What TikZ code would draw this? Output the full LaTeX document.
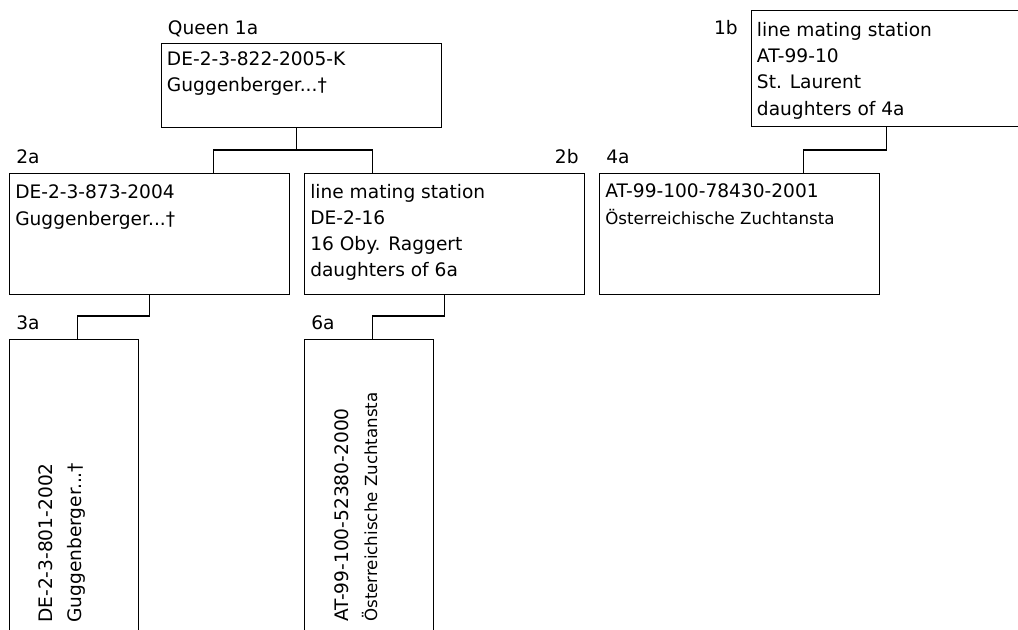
\documentclass[tikz,border=0pt]{standalone}
\usepackage{fontspec}
\setmainfont{DejaVu Sans}
\begin{document}
\begin{tikzpicture}
        [
            x = 0.75pt, y = -0.75pt,
            box/.style = {draw, line width = 1pt, inner sep = 0pt, anchor = north west},
            wide/.style = {box, minimum width = 210pt, minimum height = 91pt},
            tall/.style = {box, minimum width = 96.75pt, minimum height = 235pt},
            txt/.style = {anchor = north west, align = left, inner sep = 0pt, font = \fontsize{13.95}{19.7}\selectfont},
            turned/.style = {txt, rotate = 90, font = \fontsize{13.95}{21.75}\selectfont},
            tag/.style = {inner sep = 0pt, font = \fontsize{13.95}{19.7}\selectfont},
            link/.style = {draw, line width = 1pt}
        ]
            \useasboundingbox (0,0) rectangle (1018,630);
            \clip (0,0) rectangle (1018,630);
            % boxes
            \node [box, minimum width = 210pt, minimum height = 63.2pt] (q1a) at (160.7,42.7) {};
            \node [box, minimum width = 210pt, minimum height = 87pt] (q1b) at (750.7,10) {};
            \node [wide] (q2a) at (9,172.7) {};
            \node [wide] (q2b) at (304,172.7) {};
            \node [wide] (q4a) at (599,172.7) {};
            \node [tall] (q3a) at (9,339) {};
            \node [tall] (q6a) at (304,339) {};
            % labels
            \node [tag, anchor = base west] (l1a) at ([shift={(7,-8.4)}]q1a.north west) {Queen 1a};
            \node [tag, anchor = base east] (l1b) at (738,35) {1b};
            \node [tag, anchor = base west] (l2a) at ([shift={(7,-9.4)}]q2a.north west) {2a};
            \node [tag, anchor = base east] (l2b) at ([shift={(-6.5,-9.4)}]q2b.north east) {2b};
            \node [tag, anchor = base west] (l4a) at ([shift={(7,-9.4)}]q4a.north west) {4a};
            \node [tag, anchor = base west] (l3a) at ([shift={(7,-9)}]q3a.north west) {3a};
            \node [tag, anchor = base west] (l6a) at ([shift={(7,-9)}]q6a.north west) {6a};
            % texts
            \node [txt] (t1a) at ([shift={(6,8.5)}]q1a.north west) {DE-2-3-822-2005-K\\Guggenberger...†};
            \node [txt] (t1b) at ([shift={(6,12)}]q1b.north west) {line mating station\\AT-99-10\\St. Laurent\\daughters of 4a};
            \node [txt] (t2a) at ([shift={(6,12)}]q2a.north west) {DE-2-3-873-2004\\Guggenberger...†};
            \node [txt] (t2b) at ([shift={(6,11)}]q2b.north west) {line mating station\\DE-2-16\\16 Oby. Raggert\\daughters of 6a};
            \node [txt] (t4a) at ([shift={(6,11)}]q4a.north west) {AT-99-100-78430-2001\\{\fontsize{12.5}{19.7}\selectfont Österreichische Zuchtansta}};
            \node [turned] (t3a) at ([shift={(29.5,284)}]q3a.north west) {DE-2-3-801-2002\\Guggenberger...†};
            \node [turned] (t6a) at ([shift={(30,283)}]q6a.north west) {AT-99-100-52380-2000\\{\fontsize{12.5}{21.75}\selectfont Österreichische Zuchtansta}};
            % connectors
            \coordinate (j1) at (296.7,150);
            \coordinate (j2) at (213.3,150);
            \coordinate (j3) at (372.3,150);
            \draw [link] (q1a.south -| j1) -- (j1);
            \draw [link] (q2a.north -| j2) -- (j2) -- (j3) -- (q2b.north -| j3);
            \coordinate (j4) at (149.3,316);
            \coordinate (j5) at (77.3,316);
            \draw [link] (q2a.south -| j4) -- (j4) -- (j5) -- (q3a.north -| j5);
            \coordinate (j6) at (444.3,316);
            \coordinate (j7) at (372.3,316);
            \draw [link] (q2b.south -| j6) -- (j6) -- (j7) -- (q6a.north -| j7);
            \coordinate (j8) at (886.7,150);
            \coordinate (j9) at (803.3,150);
            \draw [link] (q1b.south -| j8) -- (j8) -- (j9) -- (q4a.north -| j9);
        \end{tikzpicture}
\end{document}
